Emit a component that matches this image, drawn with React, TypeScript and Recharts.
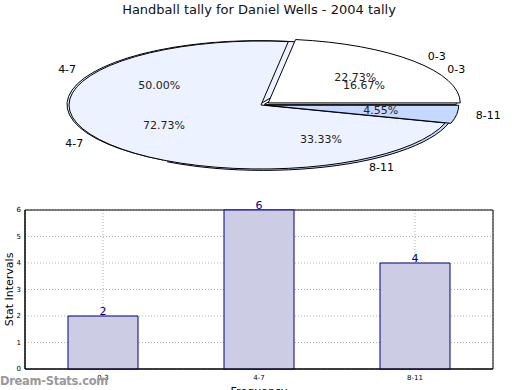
import { PieChart, Pie, BarChart, Bar, XAxis, YAxis, CartesianGrid, LabelList, ReferenceArea } from "recharts";

// categories and the two tallies shown in the pies; the bars repeat the stat counts
const categories = ["0-3", "4-7", "8-11"];
const tallyCounts = [5, 16, 1];
const statCounts = [2, 6, 4];

const sliceColors = ["#ffffff", "#ecf2ff", "#c5d8ff"];
const tallyExplode = [0.05, 0, 0.03];
const statExplode = [0.02, 0.012, 0.025];

const FONT = "DejaVu Sans, Verdana, sans-serif";
const SQUASH = 1 / 3; // pie is drawn as a flat ellipse
const RAD = Math.PI / 180;

const tallyData = categories.map((name, i) => ({ name, value: tallyCounts[i], fill: sliceColors[i] }));
const statData = categories.map((name, i) => ({ name, value: statCounts[i], fill: sliceColors[i] }));
const barData = categories.map((name, i) => ({ name, value: statCounts[i] }));

function ellipseSlice(explode: number[]) {
  return (props: any) => {
    const { cx, cy, startAngle, endAngle, outerRadius, fill } = props;
    const name = props.name ?? props.payload?.name;
    const off = explode[categories.indexOf(name)] || 0;
    const rx = outerRadius;
    const ry = outerRadius * SQUASH;
    const mid = ((startAngle + endAngle) / 2) * RAD;
    const ox = cx + rx * off * Math.cos(mid);
    const oy = cy - ry * off * Math.sin(mid);
    const x1 = ox + rx * Math.cos(startAngle * RAD);
    const y1 = oy - ry * Math.sin(startAngle * RAD);
    const x2 = ox + rx * Math.cos(endAngle * RAD);
    const y2 = oy - ry * Math.sin(endAngle * RAD);
    const large = Math.abs(endAngle - startAngle) > 180 ? 1 : 0;
    const d = `M${ox},${oy} L${x1},${y1} A${rx},${ry} 0 ${large} 0 ${x2},${y2} Z`;
    return <path d={d} fill={fill} stroke="#000" strokeWidth={1} strokeLinejoin="round" />;
  };
}

function sliceLabels(explode: number[]) {
  return (props: any) => {
    const { cx, cy, midAngle, outerRadius, percent, name } = props;
    const off = explode[categories.indexOf(name)] || 0;
    const rx = outerRadius;
    const ry = outerRadius * SQUASH;
    const c = Math.cos(midAngle * RAD);
    const s = Math.sin(midAngle * RAD);
    const px = cx + rx * (off + 0.6) * c;
    const py = cy - ry * (off + 0.6) * s;
    const lx = cx + rx * (off + 1.1) * c;
    const ly = cy - ry * (off + 1.1) * s;
    return (
      <g>
        <text x={px} y={py} textAnchor="middle" dominantBaseline="central" fontSize={11} fontFamily={FONT} fill="#222">
          {(percent * 100).toFixed(2)}%
        </text>
        <text x={lx} y={ly} textAnchor={c >= 0 ? "start" : "end"} dominantBaseline="central" fontSize={11} fontFamily={FONT} fill="#000">
          {name}
        </text>
      </g>
    );
  };
}

const noShape = () => <g />;

export default function App() {
  const pieProps = {
    dataKey: "value",
    nameKey: "name",
    cx: 256,
    cy: 100,
    outerRadius: 192,
    startAngle: 0,
    endAngle: 360,
    isAnimationActive: false,
  };

  return (
    <div style={{ position: "absolute", left: 0, top: 0, width: 520, height: 390, background: "#fff", fontFamily: FONT }}>
      <div style={{ position: "absolute", top: 2, left: 0, width: 518, textAlign: "center", fontSize: 13, color: "#111" }}>
        Handball tally for Daniel Wells - 2004 tally
      </div>

      {/* two tallies drawn on top of each other, labels kept above both */}
      <div style={{ position: "absolute", top: 0, left: 0 }}>
        <PieChart width={520} height={190}>
          <Pie {...pieProps} data={statData} shape={ellipseSlice(statExplode)} label={false} labelLine={false} />
          <Pie {...pieProps} data={tallyData} shape={ellipseSlice(tallyExplode)} label={false} labelLine={false} />
          <Pie {...pieProps} data={statData} shape={noShape} label={sliceLabels(statExplode)} labelLine={false} />
          <Pie {...pieProps} data={tallyData} shape={noShape} label={sliceLabels(tallyExplode)} labelLine={false} />
        </PieChart>
      </div>

      <div style={{ position: "absolute", top: 200, left: 0 }}>
        <BarChart width={520} height={190} data={barData} margin={{ top: 10, right: 27, bottom: 0, left: 0 }} barCategoryGap={43}>
          <XAxis
            dataKey="name"
            height={21}
            interval={0}
            tickLine={false}
            tickSize={0}
            axisLine={{ stroke: "#000" }}
            tick={{ fontSize: 7, fill: "#000", fontFamily: FONT }}
            tickMargin={6}
            label={{ value: "Frequency", position: "insideBottom", offset: -5, fontSize: 11, fill: "#000", fontFamily: FONT }}
          />
          <YAxis
            width={25}
            domain={[0, 6]}
            ticks={[0, 1, 2, 3, 4, 5, 6]}
            tickLine={false}
            tickSize={0}
            axisLine={{ stroke: "#000" }}
            tick={{ fontSize: 7, fill: "#000", fontFamily: FONT }}
            tickMargin={4}
            label={{ value: "Stat Intervals", angle: -90, position: "insideLeft", offset: 5, dx: 4, fontSize: 11, fill: "#000", fontFamily: FONT, textAnchor: "middle" }}
          />
          <Bar dataKey="value" fill="#ccccE5" stroke="#000080" strokeWidth={1} isAnimationActive={false}>
            <LabelList dataKey="value" position="top" offset={1} fill="#000080" fontSize={11} fontFamily={FONT} />
          </Bar>
          <CartesianGrid stroke="#b0b0b0" strokeDasharray="1 2" />
          {/* plot frame */}
          <ReferenceArea y1={0} y2={6} fill="none" fillOpacity={0} stroke="#000" strokeWidth={1} ifOverflow="visible" />
        </BarChart>
      </div>

      <div style={{ position: "absolute", left: 0, top: 374, fontSize: 11.5, fontWeight: "bold", color: "#999", letterSpacing: -0.3 }}>
        Dream-Stats.com
      </div>
    </div>
  );
}
